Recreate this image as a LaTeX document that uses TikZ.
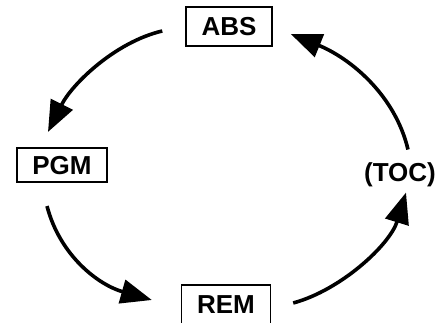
\documentclass[tikz,border=0pt]{standalone}
\usepackage{fontspec}
\setmainfont{Liberation Sans}
\usetikzlibrary{arrows.meta}
\begin{document}
\begin{tikzpicture}[x=1pt,y=-1pt,
  lbl/.style={font=\fontsize{26}{30}\selectfont\bfseries, text height=18.5pt, text depth=0pt, inner sep=0pt},
  boxed/.style={lbl, draw, line width=1.6pt, inner xsep=15.5pt},
  arr/.style={line width=3.6pt, -{Triangle[length=31pt,width=24pt]}}]
\useasboundingbox (0,0) rectangle (444,323);
\node[boxed, inner ysep=10.5pt] (abs) at (229,26.5) {ABS};
\node[boxed, inner ysep=8pt] (pgm) at (62,165) {PGM};
\node[boxed, inner ysep=10.5pt] (rem) at (226,304.5) {REM};
\node[lbl] (toc) at (400,172) {(TOC)};
\coordinate (a1s) at ([shift={(-23,4.5)}]abs.west);
\coordinate (a1e) at ([shift={(-14,-15)}]pgm.north);
\coordinate (a2s) at ([shift={(-15,23)}]pgm.south);
\coordinate (a2e) at ([shift={(-29,-4.5)}]rem.west);
\coordinate (a3s) at ([shift={(22,-1.5)}]rem.east);
\coordinate (a3e) at ([shift={(6,30)}]toc.north);
\coordinate (a4s) at ([shift={(8,-13)}]toc.north);
\coordinate (a4e) at ([shift={(18,7.5)}]abs.east);
\draw[arr] (a1s) .. controls +(-47,11) and +(24,-48) .. (a1e);
\draw[arr] (a2s) .. controls +(13,50) and +(-53,-15) .. (a2e);
\draw[arr] (a3s) .. controls +(48,-13) and +(-16,52) .. (a3e);
\draw[arr] (a4s) .. controls +(-13,-55) and +(59,24) .. (a4e);
\end{tikzpicture}
\end{document}
